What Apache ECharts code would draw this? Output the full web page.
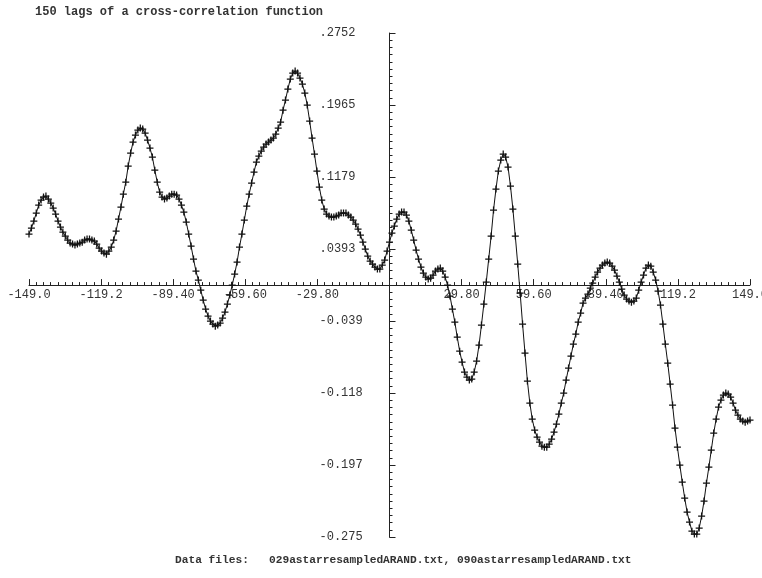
<!DOCTYPE html>
<html>
<head>
<meta charset="utf-8">
<script src="https://cdn.jsdelivr.net/npm/echarts@6/dist/echarts.min.js"></script>
<style>
html,body{margin:0;padding:0;background:#fff;}
#chart{width:762px;height:578px;}
</style>
</head>
<body>
<div id="chart"></div>
<script>
const titleText = '150 lags of a cross-correlation function';
const footerText = 'Data files:   029astarresampledARAND.txt, 090astarresampledARAND.txt';

const lagStart = -149;
const lagEnd = 149;

// cross-correlation values for lags -149 .. 149
const ccValues = [
 0.0557, 0.0622, 0.0699, 0.0786, 0.0873, 0.0928, 0.0961, 0.0972, 0.0939, 0.0895,
 0.0841, 0.0775, 0.0699, 0.0633, 0.0579, 0.0535, 0.0491, 0.0459, 0.0448, 0.0437,
 0.0448, 0.0459, 0.0469, 0.0491, 0.0502, 0.0502, 0.0491, 0.0480, 0.0448, 0.0404,
 0.0371, 0.0349, 0.0338, 0.0371, 0.0415, 0.0491, 0.0590, 0.0721, 0.0852, 0.0993,
 0.1124, 0.1299, 0.1441, 0.1561, 0.1638, 0.1692, 0.1714, 0.1703, 0.1659, 0.1583,
 0.1496, 0.1397, 0.1255, 0.1124, 0.1015, 0.0961, 0.0939, 0.0950, 0.0972, 0.0993,
 0.0993, 0.0983, 0.0939, 0.0873, 0.0797, 0.0688, 0.0557, 0.0426, 0.0284, 0.0153,
 0.0055, -0.0055, -0.0164, -0.0262, -0.0338, -0.0393, -0.0426, -0.0448, -0.0437, -0.0415,
 -0.0360, -0.0295, -0.0207, -0.0109, 0.0000, 0.0120, 0.0251, 0.0415, 0.0557, 0.0710,
 0.0862, 0.0993, 0.1114, 0.1234, 0.1343, 0.1408, 0.1463, 0.1507, 0.1539, 0.1561,
 0.1583, 0.1605, 0.1648, 0.1714, 0.1779, 0.1910, 0.2020, 0.2140, 0.2249, 0.2314,
 0.2336, 0.2314, 0.2260, 0.2194, 0.2096, 0.1965, 0.1790, 0.1605, 0.1430, 0.1245,
 0.1070, 0.0928, 0.0830, 0.0775, 0.0753, 0.0742, 0.0742, 0.0753, 0.0764, 0.0786,
 0.0786, 0.0786, 0.0764, 0.0742, 0.0710, 0.0666, 0.0611, 0.0546, 0.0469, 0.0393,
 0.0317, 0.0262, 0.0229, 0.0197, 0.0175, 0.0175, 0.0218, 0.0273, 0.0371, 0.0469,
 0.0568, 0.0644, 0.0721, 0.0775, 0.0797, 0.0797, 0.0764, 0.0699, 0.0600, 0.0491,
 0.0382, 0.0284, 0.0197, 0.0131, 0.0087, 0.0066, 0.0076, 0.0109, 0.0153, 0.0175,
 0.0186, 0.0153, 0.0087, 0.0000, -0.0120, -0.0262, -0.0404, -0.0568, -0.0721, -0.0841,
 -0.0950, -0.1004, -0.1037, -0.1026, -0.0950, -0.0830, -0.0655, -0.0437, -0.0207, 0.0033,
 0.0284, 0.0535, 0.0819, 0.1048, 0.1245, 0.1365, 0.1430, 0.1397, 0.1288, 0.1081,
 0.0830, 0.0535, 0.0229, -0.0087, -0.0426, -0.0742, -0.1048, -0.1288, -0.1463, -0.1583,
 -0.1659, -0.1714, -0.1758, -0.1769, -0.1769, -0.1736, -0.1681, -0.1605, -0.1517, -0.1408,
 -0.1288, -0.1179, -0.1037, -0.0906, -0.0775, -0.0644, -0.0535, -0.0404, -0.0306, -0.0197,
 -0.0142, -0.0098, -0.0033, 0.0022, 0.0087, 0.0142, 0.0186, 0.0218, 0.0240, 0.0251,
 0.0240, 0.0207, 0.0164, 0.0098, 0.0033, -0.0044, -0.0109, -0.0153, -0.0175, -0.0186,
 -0.0175, -0.0142, -0.0055, 0.0033, 0.0109, 0.0186, 0.0218, 0.0207, 0.0142, 0.0055,
 -0.0066, -0.0218, -0.0426, -0.0644, -0.0852, -0.1081, -0.1310, -0.1561, -0.1769, -0.1965,
 -0.2151, -0.2325, -0.2478, -0.2587, -0.2686, -0.2718, -0.2718, -0.2653, -0.2522, -0.2358,
 -0.2162, -0.1987, -0.1801, -0.1616, -0.1463, -0.1332, -0.1255, -0.1201, -0.1179, -0.1190,
 -0.1223, -0.1288, -0.1365, -0.1419, -0.1463, -0.1485, -0.1496, -0.1485, -0.1474
];

const xTickLabels = ['-149.0', '-119.2', '-89.40', '-59.60', '-29.80', '', '29.80', '59.60', '89.40', '119.2', '149.0'];
const xInterval = 29.8;

const yMin = -0.2750;
const yMax = 0.2752;
const yTickValues = [0.2752, 0.1966, 0.1180, 0.0394, -0.0392, -0.1178, -0.1964, -0.2750];
const yTickLabels = ['.2752', '.1965', '.1179', '.0393', '-0.039', '-0.118', '-0.197', '-0.275'];

const yMinorValues = [];
for (let k = 0; k <= 70; k++) yMinorValues.push(+(yMax - k * (yMax - yMin) / 70).toFixed(5));

const seriesData = ccValues.map((v, i) => [lagStart + i, v]);

// plot area layout
const W = 762, H = 578;
const G = {left: 29, right: 12, top: 33, bottom: 41};
const plotW = W - G.left - G.right;
const plotH = H - G.top - G.bottom;
const zeroY = G.top + (yMax - 0) / (yMax - yMin) * plotH;   // pixel row of value 0
const zeroX = G.left + (0 - lagStart) / (lagEnd - lagStart) * plotW; // pixel col of lag 0

const FONT = 'Liberation Mono';
const AX = '#222';
const hiddenAxis = {show: false, axisLine: {show: false}, axisTick: {show: false}, axisLabel: {show: false}, splitLine: {show: false}};

const chart = echarts.init(document.getElementById('chart'), null, {renderer: 'canvas'});
chart.setOption({
  animation: false,
  backgroundColor: '#fff',
  title: [
    {text: titleText, left: 35, top: 6, padding: 0,
     textStyle: {fontFamily: FONT, fontSize: 12, fontWeight: 'bold', color: '#333'}},
    {text: footerText, left: 175, top: 555, padding: 0,
     textStyle: {fontFamily: FONT, fontSize: 11.2, fontWeight: 'bold', color: '#333'}}
  ],
  grid: [
    {left: G.left, right: G.right, top: G.top, bottom: G.bottom, outerBoundsMode: 'none', containLabel: false},
    {left: G.left, right: G.right, top: G.top, bottom: H - zeroY, outerBoundsMode: 'none', containLabel: false},
    {left: zeroX, right: G.right, top: G.top, bottom: G.bottom, outerBoundsMode: 'none', containLabel: false}
  ],
  xAxis: [
    Object.assign({type: 'value', gridIndex: 0, min: lagStart, max: lagEnd}, hiddenAxis),
    {
      type: 'value', gridIndex: 1, position: 'bottom', min: lagStart, max: lagEnd, interval: xInterval,
      axisLine: {show: true, onZero: false, lineStyle: {color: AX, width: 1}},
      axisTick: {show: true, inside: true, length: 6, lineStyle: {color: AX}},
      minorTick: {show: true, splitNumber: 10, length: 3, lineStyle: {color: AX}},
      splitLine: {show: false},
      axisLabel: {
        show: true, margin: 4, showMinLabel: true, showMaxLabel: true,
        fontFamily: FONT, fontSize: 12, color: '#333',
        formatter: function (v) {
          const i = Math.round((v - lagStart) / xInterval);
          return xTickLabels[i] || '';
        }
      }
    },
    Object.assign({type: 'value', gridIndex: 2, min: 0, max: lagEnd}, hiddenAxis)
  ],
  yAxis: [
    Object.assign({type: 'value', gridIndex: 0, min: yMin, max: yMax}, hiddenAxis),
    Object.assign({type: 'value', gridIndex: 1, min: 0, max: yMax}, hiddenAxis),
    {
      type: 'value', gridIndex: 2, position: 'left', min: yMin, max: yMax,
      axisLine: {show: true, onZero: false, lineStyle: {color: AX, width: 1}},
      axisTick: {show: true, inside: true, length: 6, customValues: yTickValues, lineStyle: {color: AX}},
      splitLine: {show: false},
      axisLabel: {
        show: true, customValues: yTickValues, align: 'left', margin: 70,
        fontFamily: FONT, fontSize: 12, color: '#333',
        formatter: function (v) {
          let best = 0, bd = 1e9;
          yTickValues.forEach((t, i) => { const d = Math.abs(t - v); if (d < bd) { bd = d; best = i; } });
          return yTickLabels[best];
        }
      }
    },
    {
      type: 'value', gridIndex: 2, position: 'left', offset: 0, min: yMin, max: yMax,
      axisLine: {show: false, onZero: false},
      axisTick: {show: true, inside: true, length: 3, customValues: yMinorValues, lineStyle: {color: AX}},
      splitLine: {show: false},
      axisLabel: {show: false}
    }
  ],
  series: [{
    type: 'line',
    xAxisIndex: 0,
    yAxisIndex: 0,
    data: seriesData,
    smooth: false,
    lineStyle: {color: '#111', width: 1},
    symbol: 'path://M-0.9,-5 L0.9,-5 L0.9,-0.9 L5,-0.9 L5,0.9 L0.9,0.9 L0.9,5 L-0.9,5 L-0.9,0.9 L-5,0.9 L-5,-0.9 L-0.9,-0.9 Z',
    symbolSize: 7,
    showAllSymbol: true,
    itemStyle: {color: '#111'},
    emphasis: {disabled: true},
    z: 5
  }]
});
</script>
</body>
</html>
